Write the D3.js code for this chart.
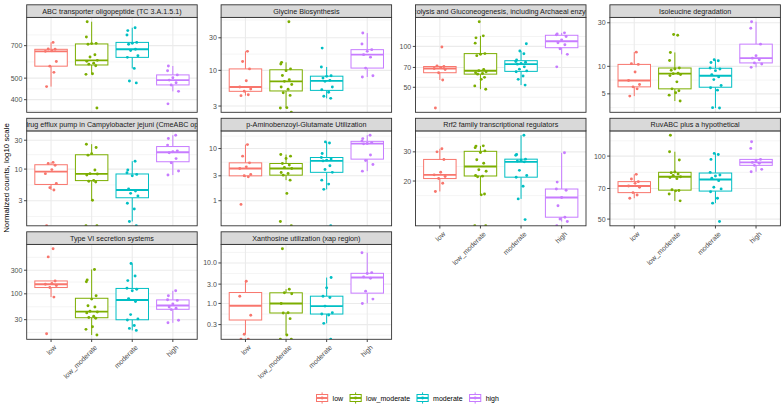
<!DOCTYPE html>
<html><head><meta charset="utf-8">
<script src="https://cdn.jsdelivr.net/npm/d3@7"></script>
<style>
body{margin:0;background:#fff}
svg{display:block}
text{font-family:"Liberation Sans",Arial,Helvetica,sans-serif}
</style>
</head><body>
<svg id="chart" width="784" height="406"></svg>
<script>
// ---------------- data ----------------
const categories = ["low", "low_moderate", "moderate", "high"];
const colors = ["#F8766D", "#7CAE00", "#00BFC4", "#C77CFF"];
const panelTitles = [
  "ABC transporter oligopeptide (TC 3.A.1.5.1)",
  "Glycine Biosynthesis",
  "Glycolysis and Gluconeogenesis, including Archaeal enzymes",
  "Isoleucine degradation",
  "Multidrug efflux pump in Campylobacter jejuni (CmeABC operon)",
  "p-Aminobenzoyl-Glutamate Utilization",
  "Rrf2 family transcriptional regulators",
  "RuvABC plus a hypothetical",
  "Type VI secretion systems",
  "Xanthosine utilization (xap region)"
];
// values per panel: [low, low_moderate, moderate, high]; 0 = zero count (drawn at -Inf)
const abcTransporter = [
  [458, 531, 566, 594, 660, 664, 674, 676, 724],
  [367, 520, 523, 568, 578, 584, 595, 601, 622, 637, 710, 715, 717, 766, 897],
  [476, 485, 553, 620, 630, 665, 674, 710, 717, 724, 782, 818, 843],
  [383, 436, 466, 477, 490, 502, 517, 540, 567]
];
const glycineBiosynthesis = [
  [4.26, 4.40, 4.93, 5.33, 5.70, 7.06, 10.5, 13.5, 19.0],
  [0, 2.81, 2.84, 4.3, 4.7, 5.3, 5.7, 6.2, 6.9, 7.3, 8.4, 9.9, 10.5, 12.4, 13.1, 51.6],
  [3.89, 4.17, 4.77, 5.2, 5.7, 6.9, 7.14, 7.7, 8.17, 8.35, 11.2, 21.2],
  [7.99, 8.35, 10.8, 15.6, 17.0, 19.0, 20.1, 24.3, 35.2]
];
const glycolysis = [
  [35.2, 56.6, 64.0, 67.6, 68.8, 70.0, 71.1, 71.9, 98.9],
  [48.4, 51.2, 57.2, 59.2, 62.5, 63.2, 64.0, 65.0, 66.1, 67.6, 85.5, 87.5, 88.5, 105.7, 115.6, 119.6, 152],
  [51.9, 57.2, 60.5, 65.0, 66.0, 68.0, 70.7, 74.0, 75.0, 76.5, 77.5, 79.5, 88.4, 92.5, 104.6],
  [70.7, 87.4, 96.2, 102.8, 106.3, 111.8, 118.3, 121.6, 123.6, 125.8]
];
const isoleucineDegradation = [
  [4.72, 5.67, 5.96, 6.32, 6.99, 8.68, 10.5, 10.7, 14.3],
  [4.17, 4.84, 5.13, 5.40, 5.67, 6.76, 7.92, 8.12, 8.32, 8.40, 9.05, 9.35, 9.59, 11.6, 14.2, 21.9, 22.3],
  [3.5, 3.53, 5.49, 5.82, 6.17, 7.16, 7.66, 8.12, 8.97, 9.35, 9.59, 11.0, 11.5, 11.8],
  [9.75, 10.6, 10.9, 11.8, 12.3, 13.1, 17.5, 26.1, 30.8]
];
const multidrugEfflux = [
  [0, 4.51, 4.93, 5.80, 8.4, 9.8, 11.6, 12.4, 12.9],
  [0, 0, 3.05, 6.11, 6.3, 6.5, 8.0, 8.27, 8.4, 9.63, 17.0, 18.0, 22.7, 25.8],
  [0, 1.36, 2.19, 2.72, 3.6, 3.97, 4.34, 4.68, 7.76, 8.17, 8.7, 9.63, 13.5],
  [7.96, 9.27, 12.7, 14.9, 18.6, 19.3, 20.0, 24.9, 32.0, 36.3]
];
const aminobenzoylGlutamate = [
  [0.85, 2.87, 3.0, 3.19, 4.15, 4.46, 5.32, 7.14, 11.9],
  [0, 0.40, 1.38, 2.48, 3.09, 3.33, 3.48, 4.15, 4.34, 4.81, 5.17, 6.44, 7.14, 7.68],
  [0, 1.65, 2.08, 2.48, 3.5, 3.97, 4.67, 5.8, 5.99, 6.3, 6.73, 8.02, 12.8, 13.4],
  [3.69, 4.95, 5.9, 7.5, 12.3, 12.5, 13.0, 14.0, 15.5, 18.0]
];
const rrf2Regulators = [
  [17.3, 19.4, 20.7, 21.3, 21.8, 22.6, 27.0, 30.0, 31.3],
  [0, 0, 16.5, 16.7, 21.2, 21.4, 21.6, 22.9, 23.4, 25.6, 26.9, 29.7, 30.4, 31.8, 32.5, 32.6],
  [11.7, 15.6, 18.6, 21.1, 21.6, 23.2, 26.1, 26.4, 26.7, 27.1, 28.6, 28.9, 37.8],
  [0, 11.4, 11.8, 12.1, 14.2, 15.9, 17.6, 17.9, 19.7, 29.6]
];
const ruvABC = [
  [62.9, 65.2, 66.9, 71.0, 72.0, 74.1, 75.5, 77.7, 81.8],
  [61.1, 65.9, 68.2, 68.5, 69.0, 78.0, 78.9, 79.7, 80.9, 82.1, 83.3, 84.0, 95.7, 104.9, 125.8],
  [48.7, 59.6, 62.9, 67.5, 69.7, 71.0, 76.3, 78.3, 80.3, 81.2, 83.6, 96.4, 101.8, 103.0],
  [84.2, 86.4, 90.3, 92.3, 93.3, 95.0, 96.4, 108.8, 117]
];
const typeVISecretion = [
  [15.6, 85.8, 134, 147, 156, 163, 182, 558, 817],
  [14.7, 19.1, 21.5, 32.1, 33.1, 35.2, 41.1, 43.0, 44.3, 54.1, 57.5, 78.2, 91.2, 176, 191, 311],
  [18.2, 20.0, 22.9, 29.5, 31.1, 38.0, 70.0, 80.0, 115, 124, 130, 185, 229, 410],
  [25.9, 29.3, 47.9, 50.9, 54.1, 62.1, 73.6, 75.9, 91.2, 115]
];
const xanthosineUtilization = [
  [0, 0, 0.173, 0.51, 1.50, 3.54],
  [0, 0, 0.166, 0.42, 0.58, 0.59, 1.0, 1.73, 1.83, 2.25, 22.5],
  [0, 0.322, 0.517, 0.547, 0.59, 0.86, 1.40, 1.51, 2.43, 4.36],
  [1.0, 1.28, 2.01, 4.2, 4.52, 5.47, 5.78, 17.9]
];
const yTickLabels = [
  ["400", "500", "700"],
  ["3", "10", "30"],
  ["50", "70", "100"],
  ["5", "10", "30"],
  ["3", "10", "30"],
  ["1", "3", "10"],
  ["20", "30"],
  ["50", "70", "100"],
  ["30", "100", "300"],
  ["0.3", "1.0", "3.0", "10.0"]
];
const yAxisTitle = "Normalized counts, log10 scale";
const panelData = [abcTransporter, glycineBiosynthesis, glycolysis, isoleucineDegradation,
  multidrugEfflux, aminobenzoylGlutamate, rrf2Regulators, ruvABC, typeVISecretion, xanthosineUtilization];

// ---------------- layout / style ----------------
const L = {left0: 26.7, colStep: 194.4, panelW: 170.5, top0: 4.8, rowStep: 113.5, stripH: 12.6, plotH: 94.9};
const jitter = [-0.11, 0.07, -0.03, 0.13, -0.14, 0.02, 0.10, -0.07, 0.05, -0.12, 0.14, -0.04, 0.08, -0.09, 0.0, 0.11, -0.13];
const axisFont = 7.0, stripFont = 7.2;
const bottomPanels = new Set([6, 7, 8, 9]);

const svg = d3.select("#chart");
svg.append("rect").attr("width", 784).attr("height", 406).attr("fill", "#fff");
const defs = svg.append("defs");

function minorBreaks(maj, lo, hi) {
  const b = maj.slice();
  const bd = b[1] - b[0];
  if (lo < b[0]) b.unshift(b[0] - bd);
  if (hi > b[b.length - 1]) b.push(b[b.length - 1] + bd);
  const out = [];
  for (let i = 0; i < b.length - 1; i++) out.push((b[i] + b[i + 1]) / 2);
  return out.filter(v => v > lo && v < hi);
}

panelData.forEach((groups, p) => {
  const col = p % 4, row = Math.floor(p / 4);
  const x0 = L.left0 + col * L.colStep, x1 = x0 + L.panelW;
  const sTop = L.top0 + row * L.rowStep;
  const pTop = sTop + L.stripH, pBot = pTop + L.plotH;
  const finite = groups.flat().filter(v => v > 0);
  const lo = Math.log10(d3.min(finite)), hi = Math.log10(d3.max(finite));
  const pad = (hi - lo) * 0.05;
  const y = d3.scaleLog().domain([10 ** (lo - pad), 10 ** (hi + pad)]).range([pBot, pTop]);
  const x = d3.scalePoint().domain(categories).range([x0, x1]).padding(0.6);
  const step = x.step();
  const g = svg.append("g");

  const clipId = "clip" + p;
  defs.append("clipPath").attr("id", clipId).append("rect")
    .attr("x", x0).attr("y", pTop).attr("width", L.panelW).attr("height", L.plotH);
  const sclipId = "sclip" + p;
  defs.append("clipPath").attr("id", sclipId).append("rect")
    .attr("x", x0).attr("y", sTop).attr("width", L.panelW).attr("height", L.stripH);

  // grid
  const majVals = yTickLabels[p].map(Number);
  const majLogs = majVals.map(Math.log10);
  const minors = minorBreaks(majLogs, lo - pad, hi + pad);
  const grid = g.append("g").attr("clip-path", `url(#${clipId})`);
  grid.selectAll(".ymin").data(minors).join("line")
    .attr("x1", x0).attr("x2", x1).attr("y1", d => y(10 ** d)).attr("y2", d => y(10 ** d))
    .attr("stroke", "#EBEBEB").attr("stroke-width", 0.55);
  grid.selectAll(".ymaj").data(majVals).join("line")
    .attr("x1", x0).attr("x2", x1).attr("y1", d => y(d)).attr("y2", d => y(d))
    .attr("stroke", "#EBEBEB").attr("stroke-width", 1.1);
  grid.selectAll(".xmaj").data(categories).join("line")
    .attr("x1", d => x(d)).attr("x2", d => x(d)).attr("y1", pTop).attr("y2", pBot)
    .attr("stroke", "#EBEBEB").attr("stroke-width", 1.1);

  const plot = g.append("g").attr("clip-path", `url(#${clipId})`);
  // boxplots (stats on log10 scale, like ggplot)
  groups.forEach((vals, gi) => {
    const logs = vals.filter(v => v > 0).map(Math.log10).sort(d3.ascending);
    const q1 = d3.quantile(logs, 0.25), med = d3.quantile(logs, 0.5), q3 = d3.quantile(logs, 0.75);
    const iqr = q3 - q1;
    const wLo = d3.min(logs.filter(v => v >= q1 - 1.5 * iqr));
    const wHi = d3.max(logs.filter(v => v <= q3 + 1.5 * iqr));
    const cx = x(categories[gi]);
    const bw = 0.8 * step;
    const c = colors[gi];
    const bx = plot.append("g");
    bx.append("line").attr("x1", cx).attr("x2", cx).attr("y1", y(10 ** q3)).attr("y2", y(10 ** wHi))
      .attr("stroke", c).attr("stroke-width", 1);
    bx.append("line").attr("x1", cx).attr("x2", cx).attr("y1", y(10 ** q1)).attr("y2", y(10 ** wLo))
      .attr("stroke", c).attr("stroke-width", 1);
    bx.append("rect").attr("x", cx - bw / 2).attr("width", bw)
      .attr("y", y(10 ** q3)).attr("height", y(10 ** q1) - y(10 ** q3))
      .attr("fill", "#fff").attr("stroke", c).attr("stroke-width", 1);
    bx.append("line").attr("x1", cx - bw / 2).attr("x2", cx + bw / 2)
      .attr("y1", y(10 ** med)).attr("y2", y(10 ** med))
      .attr("stroke", c).attr("stroke-width", 1.9);
  });
  // jittered points
  groups.forEach((vals, gi) => {
    const cx = x(categories[gi]);
    plot.append("g").selectAll("circle").data(vals).join("circle")
      .attr("cx", (d, i) => cx + jitter[(i + gi * 3) % jitter.length] * step)
      .attr("cy", d => d > 0 ? y(d) : pBot)
      .attr("r", 1.45).attr("fill", colors[gi]);
  });

  // panel border
  g.append("rect").attr("x", x0).attr("y", pTop).attr("width", L.panelW).attr("height", L.plotH)
    .attr("fill", "none").attr("stroke", "#333333").attr("stroke-width", 0.9);
  // strip
  g.append("rect").attr("x", x0).attr("y", sTop).attr("width", L.panelW).attr("height", L.stripH)
    .attr("fill", "#D9D9D9").attr("stroke", "#333333").attr("stroke-width", 0.9);
  g.append("text").attr("clip-path", `url(#${sclipId})`)
    .attr("x", (x0 + x1) / 2).attr("y", sTop + L.stripH / 2 + 0.3)
    .attr("text-anchor", "middle").attr("dominant-baseline", "central")
    .attr("font-size", stripFont).attr("fill", "#1A1A1A").text(panelTitles[p]);

  // y axis
  const ya = g.append("g");
  ya.selectAll("line").data(majVals).join("line")
    .attr("x1", x0 - 2.7).attr("x2", x0).attr("y1", d => y(d)).attr("y2", d => y(d))
    .attr("stroke", "#333333").attr("stroke-width", 0.9);
  ya.selectAll("text").data(yTickLabels[p]).join("text")
    .attr("x", x0 - 4.3).attr("y", d => y(+d)).attr("dominant-baseline", "central")
    .attr("text-anchor", "end").attr("font-size", axisFont).attr("fill", "#4D4D4D").text(d => d);

  // x axis
  if (bottomPanels.has(p)) {
    const xa = g.append("g");
    xa.selectAll("line").data(categories).join("line")
      .attr("x1", d => x(d)).attr("x2", d => x(d)).attr("y1", pBot).attr("y2", pBot + 2.7)
      .attr("stroke", "#333333").attr("stroke-width", 0.9);
    xa.selectAll("text").data(categories).join("text")
      .attr("transform", d => `translate(${x(d) + 2.5},${pBot + 5.2}) rotate(-45)`)
      .attr("text-anchor", "end").attr("dominant-baseline", "hanging")
      .attr("font-size", axisFont).attr("fill", "#4D4D4D").text(d => d);
  }
});

// y axis title
svg.append("text").attr("transform", "translate(6.5,178) rotate(-90)")
  .attr("text-anchor", "middle").attr("dominant-baseline", "central")
  .attr("font-size", 7.9).attr("fill", "#000").text(yAxisTitle);

// legend
const leg = svg.append("g");
const legY = 398, keyS = 14;
let cursor = 0;
const items = [];
categories.forEach((c, i) => {
  const it = leg.append("g");
  const k = it.append("g");
  k.append("line").attr("x1", keyS / 2).attr("x2", keyS / 2).attr("y1", keyS * 0.1).attr("y2", keyS * 0.9)
    .attr("stroke", colors[i]).attr("stroke-width", 1);
  k.append("rect").attr("x", keyS * 0.1).attr("y", keyS * 0.25).attr("width", keyS * 0.8).attr("height", keyS * 0.5)
    .attr("fill", "#fff").attr("stroke", colors[i]).attr("stroke-width", 1);
  k.append("line").attr("x1", keyS * 0.1).attr("x2", keyS * 0.9).attr("y1", keyS / 2).attr("y2", keyS / 2)
    .attr("stroke", colors[i]).attr("stroke-width", 1.9);
  k.append("circle").attr("cx", keyS / 2).attr("cy", keyS / 2).attr("r", 1.45).attr("fill", colors[i]);
  const t = it.append("text").attr("x", keyS + 3.5).attr("y", keyS / 2).attr("dominant-baseline", "central")
    .attr("font-size", axisFont).attr("fill", "#000").text(c);
  const tw = t.node().getComputedTextLength();
  items.push({it, off: cursor});
  cursor += keyS + 3.5 + tw + 5.5;
});
const totalW = cursor - 5.5;
const legX = 407 - totalW / 2;
items.forEach(d => d.it.attr("transform", `translate(${legX + d.off},${legY - keyS / 2})`));
</script>
</body></html>
